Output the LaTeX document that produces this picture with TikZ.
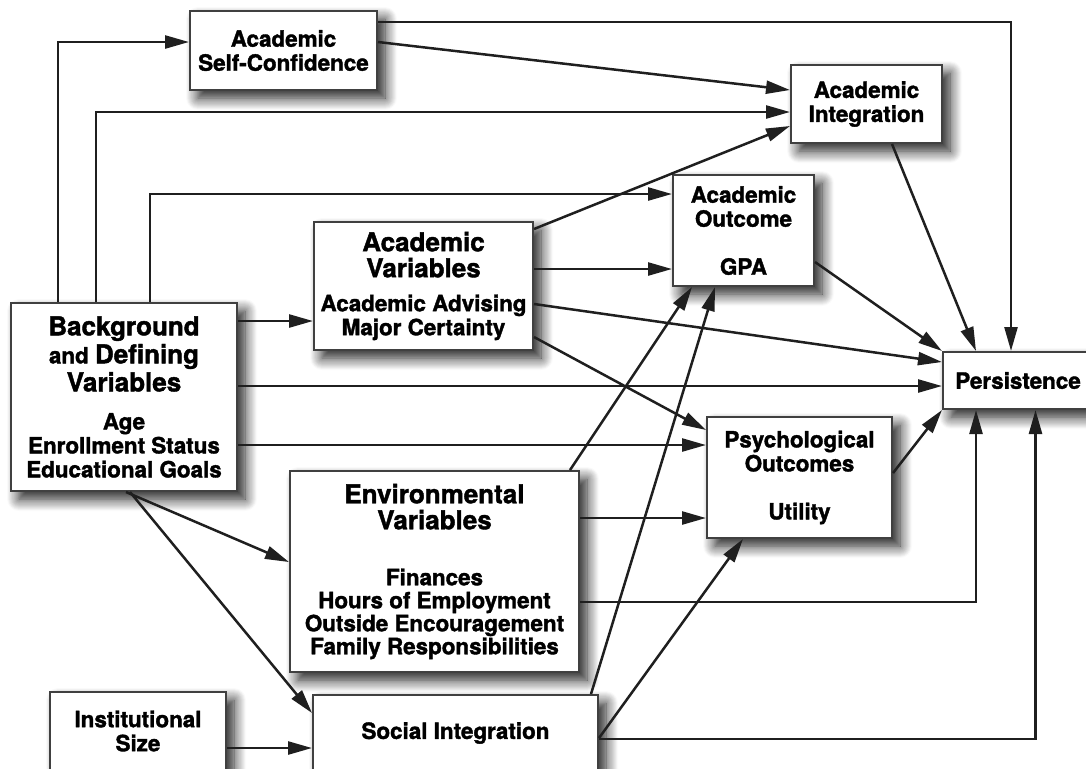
\documentclass[tikz,border=0pt]{standalone}
\usepackage{fontspec}
\setmainfont{TeX Gyre Heros}[BoldFeatures={FakeBold=1.6}]
\usetikzlibrary{arrows.meta, shadows.blur}

\begin{document}
\begin{tikzpicture}[x=0.5pt, y=-0.5pt,
	box/.style={draw=black!75, line width=1pt, fill=white, inner sep=0pt, align=center,
		font=\myfontsmall,
		blur shadow={shadow xshift=4pt, shadow yshift=-4pt, shadow blur radius=6pt,
			shadow blur steps=12, shadow opacity=90}},
	arr/.style={draw=black!88, line width=1.25pt, -{Triangle[length=12pt,width=6.5pt]}}]
			\newcommand{\myfontsmall}{%
				\fontsize{11.2}{12}\selectfont\bfseries%
			}\newcommand{\myfontbig}[1]{%
				{\fontsize{13}{14}\selectfont #1}%
			}%Frame of the picture
			\useasboundingbox (0,0) rectangle (1086,768);
			\clip (0,0) rectangle (1086,768);
			%Boxes
			\node [box, minimum width=93.5pt, minimum height=39.5pt] (asc) at (283.5,50.5)
				{Academic\\Self-Confidence};
			\node [box, minimum width=75.5pt, minimum height=39pt] (ai) at (866.5,104)
				{Academic\\Integration};
			\node [box, minimum width=70.5pt, minimum height=55.5pt] (ao) at (743.5,230.5)
				{Academic\\Outcome\\[12pt]GPA};
			\node [box, minimum width=109.5pt, minimum height=64pt] (av) at (423.5,286)
				{\myfontbig{Academic}\\[1pt]\myfontbig{Variables}\\[5pt]Academic Advising\\Major Certainty};
			\node [box, minimum width=113pt, minimum height=94pt] (bg) at (124,397)
				{\myfontbig{Background}\\[0.5pt]and \myfontbig{Defining}\\[0.5pt]\myfontbig{Variables}\\[7pt]Age\\Enrollment Status\\Educational Goals};
			\node [box, minimum width=75pt, minimum height=28.5pt] (pers) at (1018,380.5)
				{Persistence};
			\node [box, minimum width=92.5pt, minimum height=60.5pt] (po) at (799.5,477.5)
				{Psychological\\Outcomes\\[12pt]Utility};
			\node [box, minimum width=144.5pt, minimum height=100.5pt] (ev) at (434.5,571.5)
				{\myfontbig{Environmental}\\[1pt]\myfontbig{Variables}\\[16pt]Finances\\[-0.5pt]Hours of Employment\\[-0.5pt]Outside Encouragement\\[-0.5pt]Family Responsibilities};
			\node [box, minimum width=88pt, minimum height=39pt] (is) at (138,731)
				{Institutional\\Size};
			\node [box, minimum width=142.5pt, minimum height=38pt] (si) at (455.5,733)
				{Social Integration};
			%Lines leaving the top of the background box
			\draw [arr] ([xshift=24pt]bg.north west) |- ([yshift=4.25pt]asc.west);
			\draw [arr] ([xshift=43pt]bg.north west) |- ([yshift=-4pt]ai.west);
			\draw [arr] ([xshift=70pt]bg.north west) |- ([yshift=18.25pt]ao.west);
			%Lines leaving the right of the background box
			\draw [arr] ([yshift=38pt]bg.east) -- ([yshift=38pt]bg.east -| av.west);
			\draw [arr] ([yshift=5.5pt]bg.east) -- ([yshift=5.5pt]bg.east -| pers.west);
			\draw [arr] ([yshift=-24pt]bg.east) -- ([yshift=-24pt]bg.east -| po.west);
			%Lines leaving the bottom of the background box
			\draw [arr] ([xshift=1pt]bg.south) -- ([yshift=4.75pt]ev.west);
			\draw [arr] ([xshift=3pt]bg.south) -- ([yshift=10pt]si.west);
			%Self-confidence
			\draw [arr] ([yshift=14.25pt]asc.east) -| ([xshift=-3.5pt]pers.north);
			\draw [arr] ([yshift=4.25pt]asc.east) -- ([yshift=7pt]ai.west);
			%Academic variables
			\draw [arr] ([yshift=-4pt]av.north east) -- ([yshift=-11pt]ai.west);
			\draw [arr] ([yshift=8.5pt]av.east) -- ([yshift=8.5pt]av.east -| ao.west);
			\draw [arr] ([yshift=-9pt]av.east) -- ([yshift=9.25pt]pers.west);
			\draw [arr] ([yshift=-25.5pt]av.east) -- ([yshift=23.75pt]po.west);
			%Environmental variables
			\draw [arr] ([xshift=-5pt]ev.north east) -- ([xshift=-25.75pt]ao.south);
			\draw [arr] ([yshift=26.75pt]ev.east) -- ([yshift=26.75pt]ev.east -| po.west);
			\draw [arr] ([yshift=-15.25pt]ev.east) -| ([xshift=-21pt]pers.south);
			%Institutional size and social integration
			\draw [arr] ([yshift=-8.5pt]is.east) -- ([yshift=-8.5pt]is.east -| si.west);
			\draw [arr] ([xshift=-4pt]si.north east) -- ([xshift=-14.25pt]ao.south);
			\draw [arr] ([yshift=-2.5pt]si.east) -- ([xshift=-28.25pt]po.south);
			\draw [arr] ([yshift=-3pt]si.east) -| ([xshift=8.75pt]pers.south);
			%Into persistence
			\draw [arr] ([yshift=-15.75pt]ao.east) -- (pers.north west);
			\draw [arr] ([xshift=12.75pt]ai.south) -- ([xshift=-21pt]pers.north);
			\draw [arr] ([yshift=2.25pt]po.east) -- (pers.south west);
\end{tikzpicture}
\end{document}
